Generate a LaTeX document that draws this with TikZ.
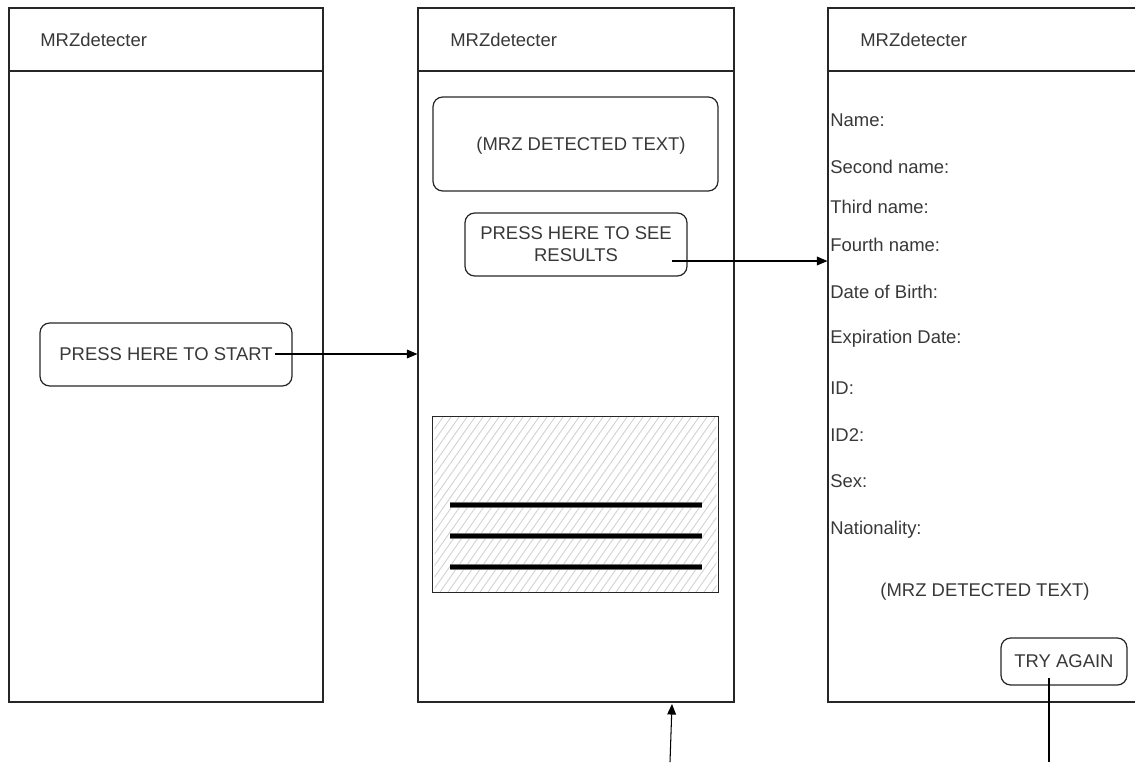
\documentclass[tikz,border=0pt]{standalone}
\usepackage{fontspec}
\setmainfont{Liberation Sans}
\usetikzlibrary{arrows.meta}

\begin{document}
\begin{tikzpicture}[x=0.02cm, y=-0.02cm,
  screen/.style={draw=black!85, line width=0.7pt, inner sep=0pt},
  button/.style={draw=black!85, line width=0.7pt, rounded corners=5.5pt, align=center, inner sep=0pt},
  label/.style={text=black!78, inner sep=0pt},
  link/.style={draw=black, line width=0.6pt},
  bar/.style={line width=3.6pt, draw=black!55},
  barcore/.style={line width=2.6pt, draw=black}]

\fontsize{10.5pt}{12.5pt}\selectfont
\useasboundingbox (0,0) rectangle (1135,762);
\clip (0,0) rectangle (1135,762);

% three screens
\node[screen, minimum width=6.28cm, minimum height=13.88cm] (scr1) at (166,355) {};
\node[screen, minimum width=6.32cm, minimum height=13.88cm] (scr2) at (576,355) {};
\node[screen, minimum width=6.32cm, minimum height=13.88cm] (scr3) at (986,355) {};
\coordinate (hdr) at (0,71);
\draw[screen] (scr1.west |- hdr) -- (scr1.east |- hdr);
\draw[screen] (scr2.west |- hdr) -- (scr2.east |- hdr);
\draw[screen] (scr3.west |- hdr) -- (scr3.east |- hdr);
\node[label, anchor=west] (title1) at (40,40) {MRZdetecter};
\node[label, anchor=west] (title2) at (450,40) {MRZdetecter};
\node[label, anchor=west] (title3) at (860,40) {MRZdetecter};

% first screen
\node[button, minimum width=5.04cm, minimum height=1.26cm, text=black!78] (start) at (166,354.5) {PRESS HERE TO START};
\coordinate (startout) at (275,354);

% second screen
\node[button, minimum width=5.7cm, minimum height=1.88cm] (mrzbox) at (575.5,144) {};
\node[label] (mrztext) at (581,146) {(MRZ DETECTED TEXT)};
\node[button, minimum width=4.44cm, minimum height=1.26cm, text=black!78] (results) at (576,244.5) {PRESS HERE TO SEE\\RESULTS};
\coordinate (resout) at (672,261);
\node[minimum width=5.7cm, minimum height=3.5cm, inner sep=0pt] (photo) at (575.5,504.5) {};
\begin{scope}
  \clip ([shift={(2,-2)}]photo.north west) rectangle ([shift={(-2,2)}]photo.south east);
  \foreach \x in {280,288,...,720}
    \draw[black!18, line width=0.5pt] (\x,592) -- (\x+123,417);
\end{scope}
\draw[screen] (photo.north west) rectangle (photo.south east);
\foreach \y in {505,536,567} {
  \draw[bar] (450,\y) -- (702,\y);
  \draw[barcore] (450,\y) -- (702,\y);
}
\coordinate (upfoot) at (670,762);
\coordinate (uptip) at (672,704);

% third screen
\foreach \y/\txt [count=\i] in {120/Name:, 167/Second name:, 207/Third name:, 245/Fourth name:,
    292/Date of Birth:, 339/Expiration Date:, 388/ID:, 435/ID2:, 481/Sex:, 530/Nationality:}
  \node[label, anchor=west] (field\i) at (830,\y) {\txt};
\node[label] (mrzresult) at (985,592) {(MRZ DETECTED TEXT)};
\node[button, minimum width=2.52cm, minimum height=0.94cm, text=black!78] (again) at (1064,661.5) {TRY AGAIN};
\coordinate (againout) at (1049,678);
\coordinate (againfoot) at (1049,762);

% connectors
\draw[link, -{Triangle[length=6pt, width=5pt]}] (startout) -- (startout -| scr2.west);
\draw[link, -{Triangle[length=6pt, width=5pt]}] (resout) -- (resout -| scr3.west);
\draw[link, -{Triangle[length=6pt, width=5pt]}] (upfoot) -- (uptip);
\draw[link] (againout) -- (againfoot);
\end{tikzpicture}
\end{document}
